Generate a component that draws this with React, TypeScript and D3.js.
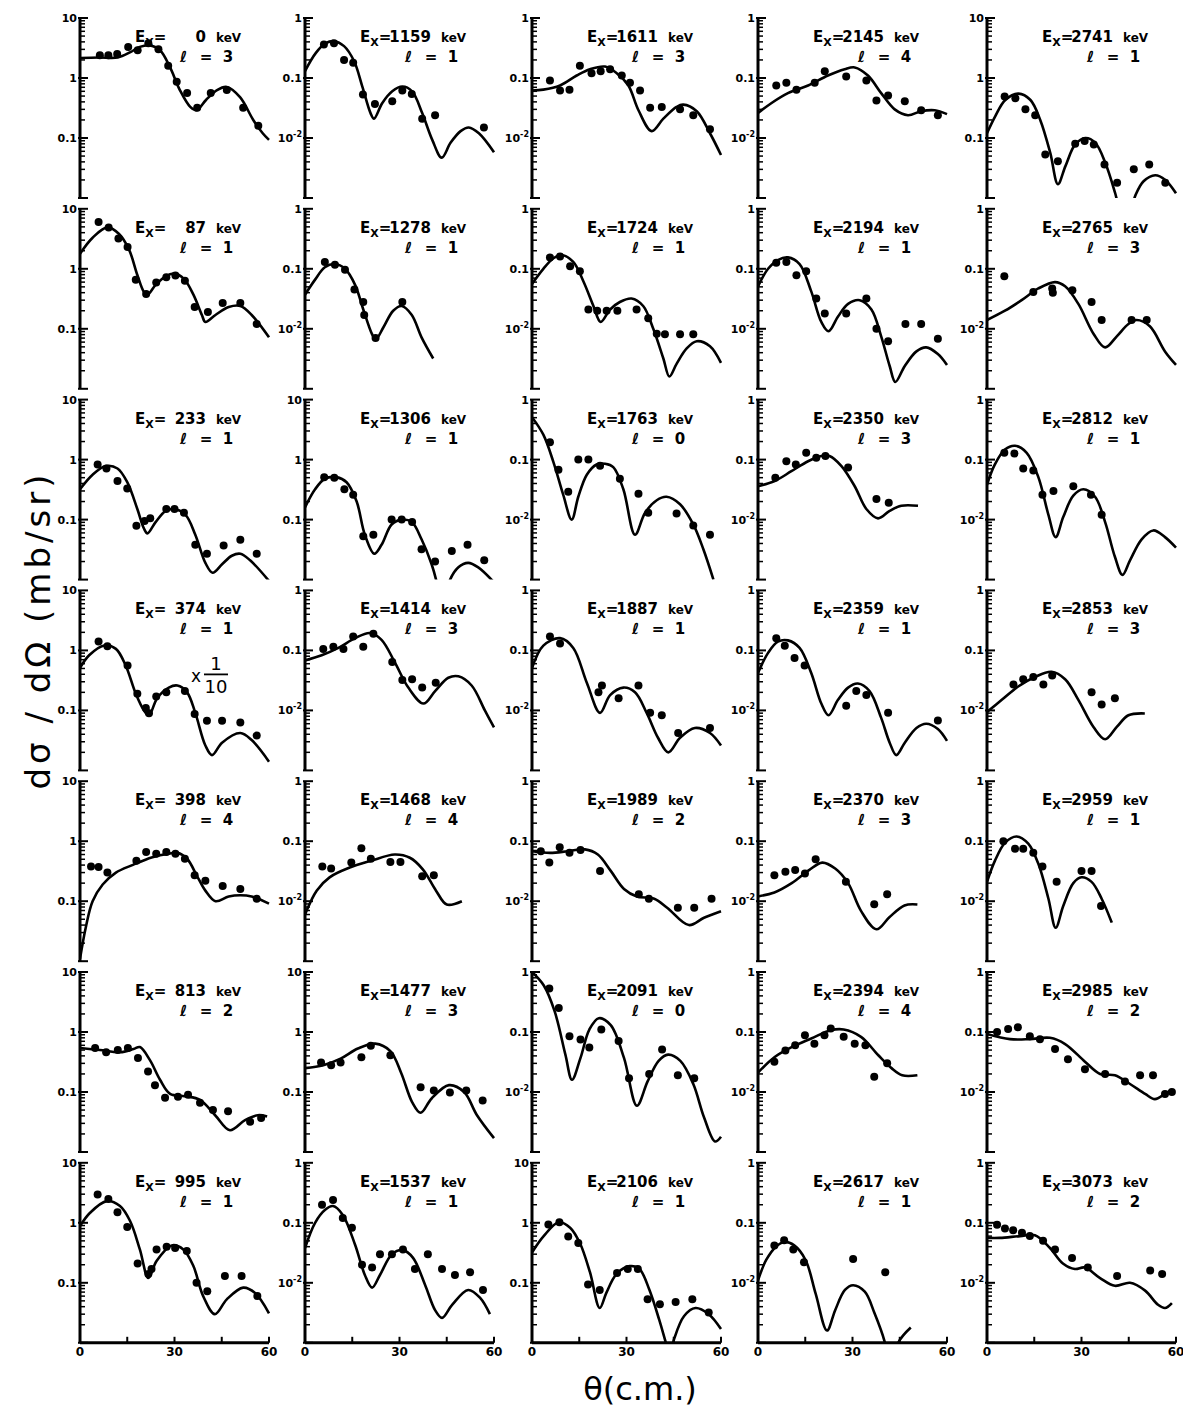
import * as d3 from 'd3';

// excitation energies (keV), row by row, five columns
const energies = [
  0, 1159, 1611, 2145, 2741,
  87, 1278, 1724, 2194, 2765,
  233, 1306, 1763, 2350, 2812,
  374, 1414, 1887, 2359, 2853,
  398, 1468, 1989, 2370, 2959,
  813, 1477, 2091, 2394, 2985,
  995, 1537, 2106, 2617, 3073,
];

// transferred angular momentum
const ells = [
  3, 1, 3, 4, 1,
  1, 1, 1, 1, 3,
  1, 1, 0, 3, 1,
  1, 3, 1, 1, 3,
  4, 4, 2, 3, 1,
  2, 3, 0, 4, 2,
  1, 1, 1, 1, 2,
];

// exponent of the top decade of each panel (10 -> 1, 1 -> 0)
const topDecade = [
  1, 0, 0, 0, 1,
  1, 0, 0, 0, 0,
  1, 1, 0, 0, 0,
  1, 0, 0, 0, 0,
  1, 0, 0, 0, 0,
  1, 1, 0, 0, 0,
  1, 0, 1, 0, 0,
];

const xTicks = [0, 15, 30, 45, 60];
const xTickLabels = [0, 30, 60];

type Pt = [number, number];

// DWBA curves [theta, dsigma/dOmega]
const curves: Pt[][] = [
  [[0,2.15],[6,2.2],[12,2.2],[16,2.7],[19,3.3],[22,3.5],[25.4,2.9],[28.6,1.5],[31.7,0.63],[35,0.33],[37,0.29],[40,0.43],[43.5,0.63],[46.6,0.71],[50.8,0.48],[55,0.2],[58,0.12],[60,0.093]],
  [[0,0.13],[3.4,0.26],[6.6,0.38],[9.2,0.41],[12.4,0.34],[15.6,0.19],[18.2,0.072],[20.8,0.026],[21.9,0.021],[24.5,0.038],[27.7,0.06],[30.9,0.072],[34,0.06],[37.2,0.026],[40.4,0.0093],[43.4,0.0047],[46.2,0.0083],[49.4,0.013],[52,0.015],[55.2,0.012],[60,0.0058]],
  [[0,0.062],[3.6,0.064],[8.9,0.075],[14.2,0.11],[18.4,0.14],[23.2,0.155],[26.9,0.12],[30.6,0.075],[33.8,0.029],[38,0.013],[41.7,0.021],[45.9,0.033],[48,0.036],[52.3,0.028],[56.5,0.012],[60,0.0052]],
  [[0,0.026],[4.2,0.038],[9.5,0.056],[15.9,0.075],[22.2,0.11],[27.5,0.14],[30.7,0.15],[34.9,0.11],[39.1,0.056],[43.4,0.03],[47.6,0.024],[51.8,0.028],[56.1,0.029],[60,0.025]],
  [[0,0.12],[2.6,0.23],[5.8,0.43],[10,0.55],[13.8,0.43],[16.9,0.2],[20.1,0.056],[22.5,0.017],[24.9,0.034],[28,0.078],[31.2,0.1],[34.4,0.083],[37.6,0.038],[40.7,0.012],[43.8,0.003],[47.1,0.011],[49.7,0.019],[53.4,0.024],[56.6,0.02],[60,0.012]],

  [[0,1.78],[4,3.3],[8.7,4.9],[12.4,3.8],[15.6,2.07],[18.2,0.79],[20.3,0.41],[21.4,0.37],[24,0.54],[27.2,0.75],[29.8,0.83],[33,0.68],[36,0.37],[38.7,0.17],[39.8,0.13],[43,0.17],[47.2,0.23],[50.9,0.24],[54.5,0.17],[60,0.072]],
  [[0,0.037],[3.2,0.066],[6.3,0.106],[9.5,0.12],[12.7,0.1],[15.9,0.054],[18.5,0.021],[21.2,0.0083],[22.4,0.0066],[24.9,0.0106],[28,0.02],[30.7,0.024],[33.9,0.017],[37,0.0072],[40.7,0.0032]],
  [[0,0.056],[3.6,0.1],[6.8,0.15],[9.4,0.17],[13.1,0.13],[16.3,0.062],[19.5,0.024],[21.8,0.013],[24.8,0.021],[27.9,0.028],[31.6,0.032],[35.3,0.024],[38.5,0.01],[41.7,0.0032],[43.6,0.0016],[45.9,0.0026],[49.1,0.0047],[52.3,0.0062],[56.5,0.0051],[60,0.0027]],
  [[0,0.051],[3.2,0.1],[6.3,0.14],[9.5,0.155],[13.2,0.12],[16.9,0.042],[20.1,0.013],[22.4,0.0091],[25.4,0.016],[28.6,0.026],[32.3,0.03],[36,0.021],[39.1,0.0075],[41.8,0.0024],[43.6,0.0013],[46.6,0.0024],[50.3,0.0042],[53.4,0.0049],[57.1,0.0038],[60,0.0025]],
  [[0,0.014],[5.7,0.02],[11,0.03],[16.3,0.047],[21.6,0.06],[24.8,0.051],[29,0.026],[33.8,0.0083],[37.5,0.0049],[41.2,0.0075],[44.9,0.012],[47.5,0.014],[51.7,0.011],[56.5,0.0042],[60,0.0025]],

  [[0,0.32],[4,0.56],[8.2,0.78],[11.9,0.71],[15,0.42],[18.2,0.15],[20.3,0.071],[21.4,0.059],[24,0.091],[27.2,0.14],[29.8,0.15],[33.5,0.12],[36.6,0.056],[39.8,0.019],[42.1,0.013],[45.1,0.018],[48.2,0.025],[50.9,0.027],[54,0.021],[60,0.0095]],
  [[0,0.16],[3.2,0.32],[6.3,0.48],[10,0.51],[13.2,0.42],[16.4,0.2],[19,0.056],[22,0.027],[24.3,0.038],[27.5,0.083],[30.7,0.1],[33.9,0.091],[37,0.047],[40.2,0.018],[41.8,0.0091],[43.7,0.003],[45.7,0.009],[48.7,0.016],[51.8,0.019],[55,0.016],[60,0.009]],
  [[0,0.51],[3.6,0.26],[6.8,0.091],[9.9,0.026],[12.6,0.01],[14.7,0.024],[17.4,0.056],[20.5,0.083],[23.2,0.085],[25.8,0.075],[29,0.032],[32.7,0.0056],[35.9,0.013],[39.6,0.021],[42.7,0.024],[47,0.018],[51.2,0.0083],[54.4,0.0032],[57.6,0.001]],
  [[0,0.036],[5.3,0.044],[10.6,0.064],[15.9,0.094],[20.1,0.115],[22.7,0.115],[26.5,0.078],[30.7,0.036],[34.4,0.015],[38.1,0.0105],[41.8,0.014],[45.5,0.017],[50.8,0.017]],
  [[0,0.038],[2.5,0.083],[5.7,0.147],[8.9,0.17],[12.6,0.13],[16.3,0.051],[19.5,0.012],[21.8,0.0051],[24.2,0.011],[27.4,0.025],[30.6,0.032],[34.3,0.024],[37.5,0.0091],[40.6,0.0024],[43,0.0012],[45.4,0.0021],[49.1,0.0047],[52.8,0.0066],[56.5,0.0051],[60,0.0034]],

  [[0,0.51],[2.9,0.83],[7.7,1.21],[11.4,1.06],[14.5,0.56],[17.7,0.19],[20.3,0.1],[21.9,0.083],[24.5,0.16],[28.2,0.24],[30.9,0.26],[34,0.2],[36.6,0.091],[39.8,0.026],[41.9,0.018],[45.1,0.029],[50.9,0.042],[54.5,0.032],[60,0.014]],
  [[0,0.068],[5.3,0.083],[10.6,0.11],[15.9,0.16],[20.6,0.195],[24.3,0.15],[28.6,0.062],[32.8,0.024],[37.6,0.013],[41.3,0.021],[45.5,0.035],[48.7,0.037],[52.9,0.026],[57.1,0.01],[60,0.0052]],
  [[0,0.051],[3.6,0.12],[8.9,0.16],[13.1,0.11],[17.4,0.029],[21.6,0.0091],[24.8,0.018],[29,0.024],[32.7,0.02],[36.4,0.0091],[40,0.0035],[43.3,0.002],[47,0.0035],[51.7,0.0051],[56.5,0.0042],[60,0.0026]],
  [[0,0.042],[3.2,0.091],[6.3,0.14],[9.5,0.147],[13.2,0.11],[16.9,0.042],[20.1,0.013],[22.4,0.0083],[25.4,0.015],[28.6,0.024],[31.7,0.028],[35.4,0.021],[39.1,0.0075],[41.8,0.0029],[43.9,0.0018],[46.6,0.0029],[50.3,0.0051],[53.4,0.006],[57.1,0.0049],[60,0.0031]],
  [[0,0.0094],[4.7,0.015],[9.9,0.025],[15.2,0.036],[20.5,0.044],[24.8,0.033],[29,0.015],[33.8,0.0053],[37.5,0.0033],[41.2,0.0053],[44.9,0.0083],[50.1,0.0089]],

  [[0,0.011],[1.9,0.038],[4,0.1],[7.2,0.19],[11.4,0.3],[16.6,0.4],[23,0.54],[28.2,0.62],[30.9,0.64],[34,0.51],[37.2,0.26],[39.8,0.15],[43,0.1],[47.2,0.12],[50.9,0.126],[54.5,0.12],[60,0.091]],
  [[0,0.006],[3.7,0.015],[7.8,0.025],[14,0.036],[20.9,0.047],[28.5,0.06],[33.3,0.053],[37.4,0.034],[41.6,0.015],[45,0.0088],[49.8,0.01]],
  [[0,0.068],[5.8,0.064],[11.3,0.068],[16.8,0.073],[20.9,0.06],[25,0.032],[29.2,0.016],[33.3,0.012],[38.8,0.011],[42.9,0.0078],[49.8,0.004],[54.6,0.0053],[60,0.0068]],
  [[0,0.012],[5.2,0.014],[10.7,0.02],[16.2,0.033],[20.4,0.044],[24.5,0.035],[28.6,0.02],[32.7,0.0069],[37.6,0.0034],[41.7,0.0054],[46.5,0.0085],[50.6,0.0088]],
  [[0,0.021],[2.5,0.047],[5.7,0.094],[9.4,0.12],[13.1,0.091],[16.3,0.042],[19.5,0.011],[21.8,0.0036],[24.2,0.0083],[27.4,0.02],[30,0.025],[33.2,0.021],[36.4,0.011],[39.6,0.0044]],

  [[0,0.54],[6.3,0.5],[12.7,0.46],[17,0.52],[19,0.56],[22.2,0.34],[25.4,0.16],[28.6,0.093],[33.3,0.085],[38.1,0.074],[42.9,0.041],[47.6,0.023],[52.4,0.034],[56.5,0.041],[59.4,0.039]],
  [[0,0.25],[5.8,0.28],[11.3,0.36],[16.8,0.53],[22.3,0.64],[27.1,0.48],[30.5,0.21],[34,0.068],[36.7,0.045],[40.2,0.078],[45.7,0.13],[50.5,0.1],[54.6,0.041],[60,0.017]],
  [[0,1.0],[3.7,0.6],[7.2,0.22],[10.6,0.042],[12.7,0.016],[15.4,0.037],[18.2,0.11],[21.2,0.17],[25,0.13],[29.2,0.037],[33.3,0.0059],[36.7,0.015],[40.2,0.033],[43.2,0.042],[47.1,0.033],[51.2,0.0136],[54.6,0.0038],[58.1,0.0015],[60,0.0018]],
  [[0,0.021],[5.2,0.038],[10.7,0.056],[16.9,0.078],[23.1,0.107],[27.2,0.11],[32.7,0.083],[38.2,0.041],[42.4,0.025],[45.8,0.019],[50.6,0.019]],
  [[0,0.093],[7.3,0.076],[13.6,0.076],[20,0.08],[24.8,0.063],[31.1,0.032],[35.9,0.02],[40.6,0.019],[45.4,0.0136],[50.2,0.0093],[53.3,0.0076],[56.5,0.0093],[58.7,0.011]],

  [[0,0.88],[3.2,1.47],[8.5,2.3],[12.7,1.9],[15.9,1.07],[19,0.36],[21.7,0.12],[24.3,0.23],[29.1,0.42],[32.8,0.36],[36,0.19],[39.1,0.06],[42.8,0.03],[46.6,0.053],[51.8,0.083],[55.5,0.068],[60,0.031]],
  [[0,0.038],[3.2,0.1],[6.4,0.165],[8.9,0.19],[12,0.135],[15.9,0.043],[19,0.0135],[21.3,0.0083],[23.8,0.0135],[27.6,0.03],[31.1,0.035],[34.3,0.026],[38.1,0.0093],[41.3,0.0035],[43.5,0.0026],[46.7,0.0043],[51.8,0.0076],[55.6,0.0056],[58.7,0.003]],
  [[0,0.32],[3.7,0.6],[8.5,1.02],[12.1,0.83],[15.2,0.46],[18.4,0.15],[21.5,0.038],[23.6,0.068],[26.8,0.14],[31,0.19],[34.1,0.17],[37.2,0.078],[40.4,0.024],[42.5,0.01],[43.8,0.006],[45.1,0.0115],[48.3,0.028],[51.9,0.038],[56.1,0.03],[60,0.017]],
  [[0,0.011],[2.6,0.024],[5.7,0.04],[8.3,0.048],[11.5,0.042],[15.1,0.024],[18.3,0.0066],[21.9,0.0016],[24.5,0.0035],[27.6,0.0076],[30.2,0.0091],[33.9,0.0071],[37,0.0031],[40.2,0.00105],[42.3,0.0003],[44.5,0.001],[48.5,0.0018]],
  [[0,0.056],[4.1,0.056],[10.5,0.06],[15.2,0.062],[20,0.038],[24.1,0.021],[27.9,0.017],[31.1,0.018],[35.9,0.012],[40.6,0.0089],[45.4,0.01],[50.2,0.0074],[54.3,0.0043],[56.5,0.0038],[58.7,0.0046]],
];

// measured cross sections [theta, dsigma/dOmega]
const points: Pt[][] = [
  [[6.3,2.4],[9,2.4],[11.8,2.5],[15.3,3.3],[18.3,2.9],[21.7,3.8],[24.9,3.0],[28,1.6],[30.7,0.87],[34,0.56],[37.2,0.32],[41.5,0.56],[46.6,0.63],[51.8,0.32],[56.6,0.16]],
  [[6,0.36],[9.2,0.38],[12.4,0.2],[15.3,0.18],[18.4,0.053],[22.2,0.037],[27.7,0.041],[30.9,0.062],[33.9,0.054],[37.2,0.021],[41.3,0.024],[56.8,0.015]],
  [[5.7,0.091],[8.9,0.062],[11.9,0.064],[15.2,0.16],[18.9,0.12],[21.8,0.13],[24.8,0.14],[28.5,0.11],[31.1,0.083],[34.3,0.062],[37.5,0.032],[41.2,0.033],[47,0.03],[51.2,0.024],[56.5,0.014]],
  [[5.8,0.075],[9,0.083],[12.2,0.064],[18,0.083],[21.2,0.13],[28,0.106],[34.4,0.091],[37.6,0.042],[41.3,0.051],[46.6,0.041],[51.8,0.029],[57.1,0.024]],
  [[5.6,0.49],[9,0.46],[12.2,0.3],[15.3,0.24],[18.5,0.053],[22.5,0.041],[28,0.08],[31,0.089],[33.9,0.078],[37.3,0.036],[41.3,0.018],[46.6,0.03],[51.5,0.036],[56.6,0.018]],

  [[5.9,6.0],[9.1,4.9],[12.2,3.2],[15.1,2.3],[17.7,0.66],[21,0.38],[24.2,0.59],[27.4,0.72],[30.3,0.77],[33.3,0.63],[36.4,0.23],[40.6,0.19],[45.3,0.27],[50.9,0.27],[56.1,0.12]],
  [[6.3,0.13],[9.5,0.117],[12.7,0.096],[15.7,0.045],[18.5,0.028],[18.8,0.017],[22.4,0.007],[30.9,0.028]],
  [[5.7,0.155],[8.9,0.16],[12.1,0.11],[15.2,0.091],[17.9,0.021],[20.7,0.02],[23.7,0.02],[27.1,0.02],[33.2,0.021],[36.9,0.015],[39.6,0.0083],[42.2,0.0081],[47,0.0081],[51.2,0.0081]],
  [[5.8,0.126],[9,0.13],[12.2,0.078],[15.3,0.091],[18.5,0.032],[21.2,0.018],[28,0.018],[34.4,0.032],[37.6,0.01],[41.3,0.0062],[46.8,0.012],[51.8,0.012],[57.1,0.0068]],
  [[5.5,0.075],[14.7,0.041],[20.7,0.047],[20.9,0.04],[27.1,0.044],[33.2,0.028],[36.4,0.014],[45.9,0.014],[50.7,0.014]],

  [[5.6,0.83],[8.4,0.71],[11.9,0.44],[15,0.33],[17.9,0.079],[20.5,0.095],[22.3,0.105],[27.4,0.15],[30,0.15],[33,0.13],[36.6,0.038],[40.3,0.027],[45.6,0.037],[50.9,0.046],[56.1,0.027]],
  [[6.1,0.51],[9.3,0.5],[12.5,0.32],[15.3,0.26],[18.5,0.053],[21.7,0.056],[27.5,0.1],[30.7,0.1],[34,0.091],[37,0.032],[41.3,0.02],[46.6,0.03],[51.6,0.038],[56.9,0.021]],
  [[5.7,0.195],[8.4,0.068],[11.5,0.029],[14.7,0.1],[17.9,0.1],[21.6,0.079],[27.9,0.048],[33.8,0.027],[36.9,0.013],[45.9,0.0126],[51.2,0.008],[56.5,0.0056]],
  [[5.5,0.05],[9,0.094],[12,0.083],[15.3,0.13],[18.5,0.107],[21.4,0.115],[28.6,0.074],[37.6,0.022],[41.5,0.019]],
  [[5.5,0.13],[8.7,0.126],[11.5,0.071],[14.7,0.066],[17.6,0.026],[21.1,0.03],[27.4,0.036],[33,0.026],[36.4,0.012]],

  [[5.9,1.41],[8.7,1.17],[15.1,0.56],[18.2,0.19],[20.9,0.11],[21.9,0.09],[24.2,0.17],[27.4,0.2],[33.3,0.21],[36.4,0.087],[40.3,0.067],[45.1,0.067],[50.9,0.063],[56.1,0.038]],
  [[5.8,0.106],[9,0.115],[12.2,0.106],[15.3,0.17],[18.5,0.115],[21.7,0.19],[27.7,0.064],[30.9,0.032],[34,0.033],[37.2,0.024],[41.5,0.029]],
  [[5.7,0.17],[8.9,0.13],[21.1,0.02],[22.2,0.026],[27.5,0.016],[33.8,0.026],[37.5,0.0091],[41.2,0.0083],[46.4,0.0042],[56.5,0.0051]],
  [[5.8,0.16],[8.5,0.12],[11.6,0.075],[14.8,0.056],[28,0.012],[31.2,0.021],[34.4,0.018],[41.3,0.0091],[57.1,0.0068]],
  [[8.4,0.027],[11.5,0.033],[14.7,0.036],[17.9,0.027],[20.7,0.038],[33.2,0.02],[36.4,0.0126],[40.6,0.016]],

  [[3.5,0.38],[5.9,0.37],[8.7,0.3],[17.9,0.47],[21,0.66],[24.2,0.62],[27.4,0.66],[30.3,0.62],[33.3,0.51],[36.4,0.27],[39.8,0.22],[45.3,0.18],[50.9,0.16],[56.1,0.11]],
  [[5.5,0.038],[8.3,0.035],[14.7,0.044],[17.9,0.076],[20.9,0.051],[27.1,0.045],[30.3,0.045],[37.2,0.026],[40.9,0.027]],
  [[2.8,0.068],[5.5,0.044],[8.8,0.079],[11.9,0.064],[15.4,0.071],[21.6,0.032],[33.9,0.013],[37.1,0.011],[46.3,0.0078],[51.5,0.0078],[57,0.011]],
  [[5.2,0.027],[8.7,0.031],[11.8,0.033],[14.9,0.029],[18.3,0.05],[27.9,0.021],[36.9,0.0089],[41,0.013]],
  [[5.2,0.1],[8.9,0.075],[11.5,0.075],[14.7,0.064],[17.6,0.038],[22.1,0.021],[30,0.032],[33.2,0.032],[36.2,0.0083]],

  [[4.8,0.54],[8.3,0.46],[12,0.5],[15.2,0.54],[18.4,0.37],[21.6,0.22],[23.8,0.13],[27,0.08],[31.1,0.083],[34.3,0.09],[38.1,0.066],[42.2,0.05],[47,0.048],[54,0.032],[57.5,0.037]],
  [[5.1,0.31],[8.3,0.28],[11.3,0.31],[17.9,0.38],[20.9,0.59],[27.1,0.41],[36.7,0.12],[40.9,0.106],[46,0.098],[51.2,0.106],[56.4,0.072]],
  [[5.5,0.53],[8.5,0.25],[11.9,0.085],[15.4,0.075],[18.2,0.055],[22,0.11],[27.5,0.071],[30.8,0.017],[37.2,0.02],[41.3,0.051],[46.3,0.019],[51.5,0.017]],
  [[5.2,0.032],[8.7,0.049],[11.8,0.06],[14.9,0.088],[17.9,0.064],[21.1,0.088],[23.1,0.114],[27.2,0.083],[30.7,0.064],[34.1,0.06],[36.9,0.018],[41,0.03]],
  [[3.2,0.1],[6.7,0.112],[9.8,0.12],[13.6,0.085],[16.8,0.076],[21.6,0.052],[25.7,0.035],[31.1,0.024],[37.5,0.02],[43.8,0.015],[48.6,0.019],[52.7,0.019],[56.5,0.0093],[58.7,0.01]],

  [[5.6,2.97],[9,2.5],[11.9,1.5],[15,0.85],[18.3,0.21],[21.7,0.14],[22.7,0.17],[24.3,0.36],[27.5,0.4],[30.2,0.38],[33.9,0.34],[37,0.1],[40.4,0.072],[46,0.13],[51.3,0.13],[56.3,0.06]],
  [[5.4,0.2],[8.9,0.24],[12,0.12],[14.9,0.083],[18.1,0.02],[21.3,0.018],[23.8,0.03],[27.6,0.03],[31.1,0.036],[34.9,0.017],[39,0.03],[43.5,0.017],[47.6,0.0135],[52.4,0.015],[56.5,0.0076]],
  [[5.2,0.94],[8.7,1.02],[11.5,0.59],[14.7,0.46],[17.8,0.094],[21.5,0.076],[27,0.145],[30.4,0.17],[33.6,0.17],[36.7,0.053],[40.6,0.044],[45.6,0.048],[50.9,0.053],[56.1,0.032]],
  [[5.2,0.042],[8.3,0.051],[11.2,0.036],[14.6,0.022],[30.2,0.025],[40.4,0.015]],
  [[3.2,0.093],[5.7,0.08],[8.3,0.075],[11.1,0.068],[13.6,0.06],[17.8,0.05],[21.6,0.036],[27,0.026],[32,0.018],[41.3,0.013],[51.8,0.016],[55.6,0.014]],
];

const W = 1183;
const H = 1412;
const colLeft = [80, 305, 532, 758, 987];
const panelW = 189;
const panelH = 180;
const firstTop = 18;
const rowStep = 190.8;
const labelFont = 'DejaVu Sans, sans-serif';

const isDecade = (v: number) => Math.abs(Math.log10(v) - Math.round(Math.log10(v))) < 1e-6;

function TickLabel({ v, x, y }: { v: number; x: number; y: number }) {
  const e = Math.round(Math.log10(v));
  if (e <= -2) {
    return (
      <text x={x} y={y + 4} textAnchor="end" fontSize={11} fontWeight="bold" fontFamily={labelFont}>
        10<tspan dy={-5} fontSize={8}>{String(e)}</tspan>
      </text>
    );
  }
  const s = e === 1 ? '10' : e === 0 ? '1' : '0.1';
  return (
    <text x={x} y={y + 4} textAnchor="end" fontSize={11} fontWeight="bold" fontFamily={labelFont}>{s}</text>
  );
}

function Panel({ i }: { i: number }) {
  const r = Math.floor(i / 5);
  const c = i % 5;
  const left = colLeft[c];
  const top = firstTop + r * rowStep;
  const bottom = top + panelH;
  const T = topDecade[i];

  const x = d3.scaleLinear().domain([0, 60]).range([left, left + panelW]);
  const y = d3.scaleLog().domain([10 ** T, 10 ** (T - 3)]).range([top, bottom]);

  const line = d3.line<Pt>()
    .x(d => x(d[0]))
    .y(d => y(d[1]))
    .curve(d3.curveCatmullRom.alpha(0.5));

  const ticks = y.ticks();
  const labelled = [10 ** T, 10 ** (T - 1), 10 ** (T - 2)];

  return (
    <g>
      <clipPath id={`clip${i}`}>
        <rect x={left} y={top - 3} width={panelW + 8} height={panelH + 3} />
      </clipPath>

      {/* y axis */}
      <line x1={left} x2={left} y1={top} y2={bottom} stroke="#000" strokeWidth={3} />
      {ticks.map((t, k) => {
        const major = isDecade(t);
        return (
          <line key={k} x1={major ? left - 2 : left} x2={left + (major ? 8 : 5)}
            y1={y(t)} y2={y(t)} stroke="#000" strokeWidth={major ? 2 : 1.5} />
        );
      })}
      {labelled.map((v, k) => <TickLabel key={k} v={v} x={left - 3} y={y(v)} />)}

      {/* x axis on the bottom row only */}
      {r === 6 && (
        <g>
          <line x1={left} x2={left + panelW} y1={bottom} y2={bottom} stroke="#000" strokeWidth={3} />
          {xTicks.map(t => (
            <line key={t} x1={x(t)} x2={x(t)} y1={bottom} y2={bottom - 6} stroke="#000" strokeWidth={2} />
          ))}
          {xTickLabels.map(t => (
            <text key={t} x={x(t)} y={bottom + 13} textAnchor="middle" fontSize={12}
              fontWeight="bold" fontFamily={labelFont}>{t}</text>
          ))}
        </g>
      )}

      <path d={line(curves[i]) ?? ''} fill="none" stroke="#000" strokeWidth={2.6}
        clipPath={`url(#clip${i})`} />
      {points[i].map((p, k) => (
        <circle key={k} cx={x(p[0])} cy={y(p[1])} r={4} fill="#000" />
      ))}

      {/* panel label */}
      <g fontFamily={labelFont} fontWeight="bold">
        <text x={left + 55} y={top + 24} fontSize={15}>
          E<tspan dy={4} fontSize={11}>X</tspan><tspan dy={-4}>=</tspan>
        </text>
        <text x={left + 126} y={top + 24} textAnchor="end" fontSize={15}>{energies[i]}</text>
        <text x={left + 136} y={top + 24} fontSize={12}>keV</text>
        <text x={left + 100} y={top + 44} fontSize={15}>ℓ</text>
        <text x={left + 126} y={top + 44} textAnchor="middle" fontSize={15}>=</text>
        <text x={left + 148} y={top + 44} textAnchor="middle" fontSize={15}>{ells[i]}</text>
      </g>

      {i === 15 && (
        <g fontFamily={labelFont}>
          <text x={left + 111} y={top + 92} fontSize={17}>x</text>
          <text x={left + 136} y={top + 80} textAnchor="middle" fontSize={18}>1</text>
          <line x1={left + 124} x2={left + 148} y1={top + 84} y2={top + 84} stroke="#000" strokeWidth={1.8} />
          <text x={left + 136} y={top + 103} textAnchor="middle" fontSize={18}>10</text>
        </g>
      )}
    </g>
  );
}

export default function App() {
  return (
    <svg width={W} height={H} style={{ position: 'absolute', left: 0, top: 0, background: '#fff' }}>
      <rect width={W} height={H} fill="#fff" />
      {energies.map((_, i) => <Panel key={i} i={i} />)}
      <text transform="translate(50,630) rotate(-90)" textAnchor="middle" fontSize={34}
        letterSpacing={4} fontFamily="DejaVu Sans, sans-serif">
        dσ / dΩ  (mb/sr)
      </text>
      <text x={640} y={1400} textAnchor="middle" fontSize={32}
        fontFamily="DejaVu Sans, sans-serif">θ(c.m.)</text>
    </svg>
  );
}
